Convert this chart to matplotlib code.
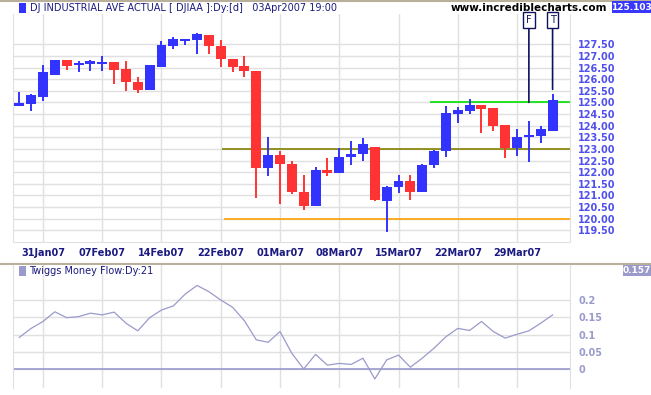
import numpy as np
import pandas as pd
from matplotlib import pyplot as plt
from matplotlib.patches import Rectangle
from matplotlib.transforms import blended_transform_factory
from matplotlib.lines import Line2D

# trading days 29 Jan 2007 - 03 Apr 2007 (Presidents' Day 19 Feb closed)
days = pd.bdate_range("2007-01-29", "2007-04-03")
days = days[days != pd.Timestamp("2007-02-19")]
tick_dates = ["2007-01-31", "2007-02-07", "2007-02-14", "2007-02-22", "2007-03-01",
              "2007-03-08", "2007-03-15", "2007-03-22", "2007-03-29"]

opens = [124.90, 124.93, 125.23, 126.18, 126.81, 126.62, 126.70, 126.65, 126.72, 126.42,
         125.88, 125.53, 126.52, 127.43, 127.67, 127.69, 127.89, 127.41, 126.85, 126.55,
         126.34, 122.17, 122.72, 122.37, 121.16, 120.53, 122.11, 121.95, 122.64, 122.77,
         123.10, 120.75, 121.35, 121.64, 121.14, 122.30, 122.90, 124.51, 124.63, 124.87,
         124.74, 124.01, 123.03, 123.53, 123.55, 123.79]
highs = [125.43, 125.38, 126.59, 126.84, 126.84, 126.77, 126.84, 127.01, 126.72, 126.77,
         126.08, 126.59, 127.63, 127.80, 127.72, 127.97, 127.89, 127.67, 126.85, 126.98,
         126.34, 123.53, 122.89, 122.50, 121.90, 122.24, 122.59, 123.06, 123.32, 123.49,
         123.10, 121.42, 121.90, 121.90, 122.37, 122.96, 124.83, 124.80, 125.13, 124.87,
         124.74, 124.01, 123.84, 124.18, 123.97, 125.34]
lows = [124.83, 124.63, 125.06, 126.18, 126.38, 126.31, 126.35, 126.35, 125.79, 125.50,
        125.40, 125.53, 126.52, 127.30, 127.47, 127.07, 127.07, 126.52, 126.29, 126.08,
        120.88, 121.85, 120.62, 121.08, 120.39, 120.53, 121.82, 121.95, 122.30, 122.47,
        120.76, 119.41, 121.09, 120.82, 121.14, 122.17, 122.64, 124.11, 124.51, 123.68,
        123.79, 122.60, 122.69, 122.43, 123.25, 123.79]
closes = [124.93, 125.30, 126.29, 126.81, 126.58, 126.68, 126.74, 126.72, 126.38, 125.86,
          125.53, 126.59, 127.46, 127.72, 127.71, 127.93, 127.43, 126.85, 126.52, 126.35,
          122.17, 122.72, 122.34, 121.16, 120.53, 122.11, 121.95, 122.67, 122.80, 123.23,
          120.79, 121.38, 121.64, 121.14, 122.33, 122.93, 124.54, 124.66, 124.87, 124.71,
          123.98, 123.03, 123.53, 123.56, 123.87, 125.10]

tmf = [0.092, 0.118, 0.138, 0.166, 0.149, 0.152, 0.162, 0.157, 0.165, 0.133,
       0.111, 0.149, 0.171, 0.183, 0.217, 0.242, 0.224, 0.200, 0.179, 0.140,
       0.085, 0.078, 0.109, 0.046, 0.001, 0.043, 0.012, 0.017, 0.014, 0.032,
       -0.028, 0.027, 0.041, 0.006, 0.032, 0.061, 0.094, 0.118, 0.112, 0.138,
       0.109, 0.090, 0.101, 0.111, 0.133, 0.157]

# support / resistance lines: (price, first day index, colour)
levels = [(125.0, 34.66, "#00e000"), (123.0, 17.1, "#808000"), (120.0, 17.3, "#ffa000")]
# F / T flags: (label, day index, price where the stem ends)
flags = [("F", 43, 125.0), ("T", 45, 125.56)]

price_ticks = np.arange(119.5, 127.51, 0.5)
tmf_ticks = [0, 0.05, 0.1, 0.15, 0.2]

W, H = 651, 395
fig = plt.figure(figsize=(W / 100, H / 100), dpi=100)
fig.patch.set_facecolor("white")

def box(l, t, r, b):
    return [l / W, 1 - b / H, (r - l) / W, (b - t) / H]

ax = fig.add_axes(box(13, 14, 570, 242))
ax2 = fig.add_axes(box(13, 265, 570, 388))

xlim = (-0.53, 46.47)
tick_idx = [list(days).index(pd.Timestamp(d)) for d in tick_dates]
tick_lbl = [pd.Timestamp(d).strftime("%d%b%y") for d in tick_dates]
grid_c = "#e0e0e0"

for a in (ax, ax2):
    a.set_xlim(*xlim)
    for s in a.spines.values():
        s.set_color(grid_c)
    a.spines["top"].set_visible(False)
    a.yaxis.tick_right()
    a.set_xticks(tick_idx)
    a.tick_params(length=0)
    a.grid(True, color=grid_c, linewidth=1)
    a.set_axisbelow(True)
ax2.spines["bottom"].set_visible(False)

# candles
x = np.arange(len(days))
for i in x:
    o, h, l, c = opens[i], highs[i], lows[i], closes[i]
    col = "#3333ff" if c >= o else "#ff3333"
    ax.vlines(i, l, h, color=col, linewidth=1.4, zorder=3)
    lo, hi = min(o, c), max(o, c)
    if hi - lo < 0.1:
        mid = (hi + lo) / 2
        lo, hi = mid - 0.05, mid + 0.05
    ax.add_patch(Rectangle((i - 0.42, lo), 0.84, hi - lo, facecolor=col,
                           edgecolor="none", zorder=4))

for price, start, col in levels:
    ax.hlines(price, start, xlim[1], color=col, linewidth=1.2, zorder=2)

ax.set_ylim(119.0, 128.8)
ax.set_yticks(price_ticks)
ax.set_yticklabels([f"{v:.2f}" for v in price_ticks], color="#5050ee",
                   fontsize=7, fontweight="bold")
ax.set_xticklabels(tick_lbl, color="#1a1a80", fontsize=7, fontweight="bold")
ax.tick_params(axis="y", pad=6)
ax.tick_params(axis="x", pad=4)

fig_y = blended_transform_factory(ax.transData, fig.transFigure)
for lbl, i, price in flags:
    ax.annotate(lbl, xy=(i, price), xycoords="data", xytext=(i, 1 - 20 / H),
                textcoords=fig_y, ha="center", va="center", fontsize=7, color="#101060",
                bbox=dict(boxstyle="square,pad=0.3", facecolor="white", edgecolor="#101060",
                          linewidth=1),
                arrowprops=dict(arrowstyle="-", color="#101060", linewidth=1.2,
                                shrinkA=0, shrinkB=0), annotation_clip=False)

# money flow panel
ax2.plot(x, tmf, color="#9a9acc", linewidth=0.9)
ax2.axhline(0, color="#9a9acc", linewidth=1.2)
ax2.set_ylim(-0.054, 0.301)
ax2.set_yticks(tmf_ticks)
ax2.set_yticklabels(["0", "0.05", "0.1", "0.15", "0.2"], color="#9a9acc",
                    fontsize=7, fontweight="bold")
ax2.set_xticklabels([])
ax2.tick_params(axis="y", pad=6)

# panel separators
for yy in (0.5, 263.5):
    fig.add_artist(Line2D([0, 1], [1 - yy / H, 1 - yy / H], transform=fig.transFigure,
                          color="#b8b09a", linewidth=1.5, zorder=0))

# headers and value boxes
fig.patches.append(Rectangle((19 / W, 1 - 13 / H), 7 / W, 10 / H, transform=fig.transFigure,
                             facecolor="#3333ff", edgecolor="none"))
fig.text(30 / W, 1 - 8 / H, "DJ INDUSTRIAL AVE ACTUAL [ DJIAA ]:Dy:[d]   03Apr2007 19:00",
         fontsize=7, color="#1a1a80", va="center")
fig.text(607 / W, 1 - 8 / H, "www.incrediblecharts.com", fontsize=7.5, fontweight="bold",
         color="black", ha="right", va="center")

fig.add_artist(Rectangle((612 / W, 1 - 13 / H), 39 / W, 12 / H, transform=fig.transFigure,
                         facecolor="#3838ff", edgecolor="none", zorder=5))
fig.text(631.5 / W, 1 - 7 / H, "125.103", fontsize=6.5, fontweight="bold", color="white",
         ha="center", va="center", zorder=6)

fig.patches.append(Rectangle((19 / W, 1 - 276 / H), 7 / W, 10 / H, transform=fig.transFigure,
                             facecolor="#9a9acc", edgecolor="none"))
fig.text(29 / W, 1 - 271 / H, "Twiggs Money Flow:Dy:21", fontsize=7, color="#1a1a80",
         va="center")
fig.add_artist(Rectangle((623 / W, 1 - 276 / H), 28 / W, 11 / H, transform=fig.transFigure,
                         facecolor="#9a9acc", edgecolor="none", zorder=5))
fig.text(637 / W, 1 - 270.5 / H, "0.157", fontsize=6.5, fontweight="bold", color="white",
         ha="center", va="center", zorder=6)

fig.savefig("out.png", dpi=100)
